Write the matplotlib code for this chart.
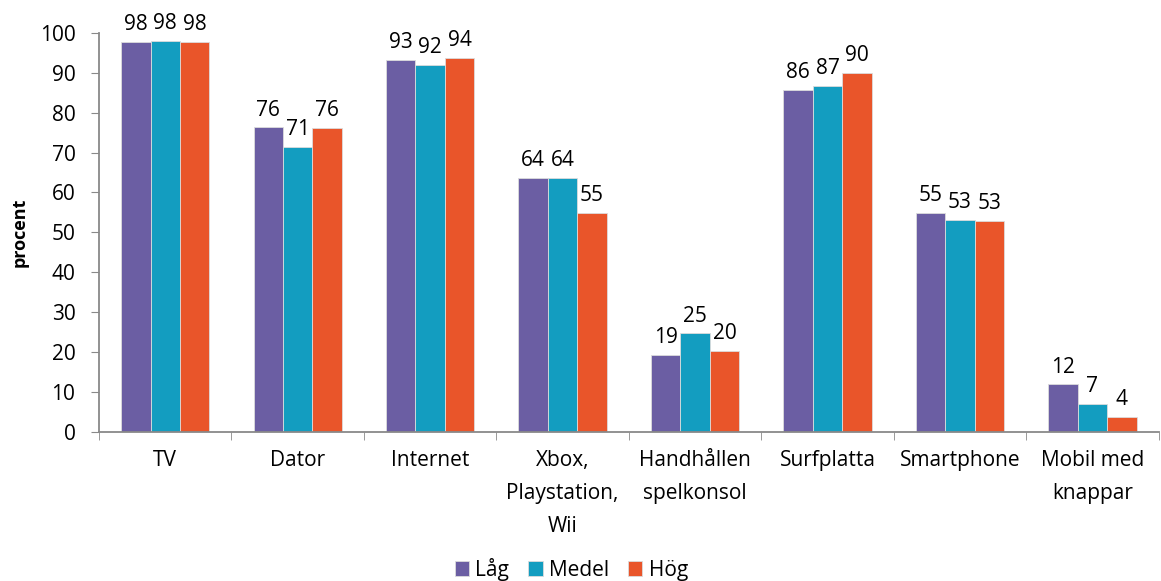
import matplotlib
matplotlib.use("Agg")
import matplotlib.pyplot as plt
import numpy as np

categories = ["TV", "Dator", "Internet", "Xbox,\nPlaystation,\nWii",
              "Handhållen\nspelkonsol", "Surfplatta", "Smartphone", "Mobil med\nknappar"]
series_names = ["Låg", "Medel", "Hög"]
lag = [97.7, 76.3, 93.2, 63.6, 19.2, 85.7, 54.8, 11.8]
medel = [98.0, 71.4, 92.0, 63.6, 24.6, 86.7, 53.1, 7.0]
hog = [97.7, 76.2, 93.7, 54.8, 20.1, 90.0, 52.8, 3.7]
colors = ["#6B5EA3", "#139DC0", "#E9552A"]

plt.rcParams["font.family"] = ["Open Sans", "DejaVu Sans"]

fig = plt.figure(figsize=(11.61, 5.81), dpi=100)
ax = fig.add_axes([0.0853, 0.2573, 0.9127, 0.6859])

x = np.arange(len(categories))
w = 1 / 4.5
for i, (vals, name, c) in enumerate(zip([lag, medel, hog], series_names, colors)):
    pos = x + (i - 1) * w
    bars = ax.bar(pos, vals, width=w, color=c, edgecolor="#dcdcdc", linewidth=0.6, label=name)
    for b, v in zip(bars, vals):
        ax.annotate(f"{v:.0f}", (b.get_x() + b.get_width() / 2, v), xytext=(0, 5),
                    textcoords="offset points", ha="center", va="bottom", fontsize=15)

ax.set_xlim(-0.5, len(categories) - 0.5)
ax.set_ylim(0, 100)
ax.set_yticks(range(0, 101, 10))
ax.tick_params(axis="y", labelsize=15, length=6, color="#898989", pad=11)
ax.set_xticks(x)
ax.set_xticklabels(categories, fontsize=15, linespacing=1.75, va="top")
ax.tick_params(axis="x", length=0, pad=13)
ax.set_xticks(np.arange(-0.5, len(categories), 1), minor=True)
ax.tick_params(axis="x", which="minor", length=6, color="#898989")

for s in ["top", "right"]:
    ax.spines[s].set_visible(False)
for s in ["left", "bottom"]:
    ax.spines[s].set_color("#898989")
    ax.spines[s].set_linewidth(1.3)

ax.set_ylabel("procent", fontsize=13, fontweight="bold", labelpad=8)

fig.legend(loc="lower center", bbox_to_anchor=(0.492, -0.032), ncol=3, frameon=False,
           fontsize=15, handlelength=0.7, handleheight=0.7, handletextpad=0.3, columnspacing=0.9)

fig.savefig("out.png", dpi=100)
